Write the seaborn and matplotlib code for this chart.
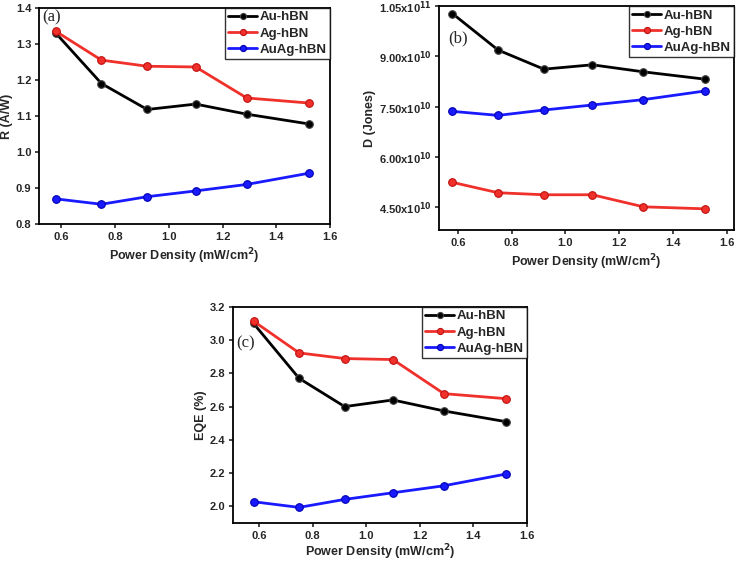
import matplotlib
matplotlib.use("Agg")
import matplotlib.pyplot as plt
import seaborn as sns
import numpy as np
import pandas as pd
from matplotlib.ticker import FuncFormatter

# power density (mW/cm^2)
power = [0.58, 0.75, 0.92, 1.10, 1.29, 1.52]
samples = ["Au-hBN", "Ag-hBN", "AuAg-hBN"]

# responsivity R (A/W)
r_au = [1.330, 1.190, 1.118, 1.133, 1.105, 1.078]
r_ag = [1.335, 1.255, 1.238, 1.236, 1.150, 1.136]
r_auag = [0.870, 0.855, 0.876, 0.892, 0.910, 0.941]

# detectivity D (Jones)
d_au = [10.28e10, 9.19e10, 8.62e10, 8.75e10, 8.54e10, 8.32e10]
d_ag = [5.24e10, 4.93e10, 4.87e10, 4.87e10, 4.51e10, 4.45e10]
d_auag = [7.36e10, 7.24e10, 7.40e10, 7.55e10, 7.71e10, 7.97e10]

# external quantum efficiency (%)
eqe_au = [3.100, 2.770, 2.600, 2.640, 2.574, 2.510]
eqe_ag = [3.114, 2.923, 2.889, 2.883, 2.678, 2.648]
eqe_auag = [2.028, 1.994, 2.042, 2.082, 2.124, 2.194]

colors = {"Au-hBN": "black", "Ag-hBN": "#f0302a", "AuAg-hBN": "#1a1aff"}
edge = {"Au-hBN": "#444444", "Ag-hBN": "#c01010", "AuAg-hBN": "#0000b0"}

sns.set_style("ticks")
plt.rcParams["font.family"] = ["Liberation Sans", "DejaVu Sans"]
plt.rcParams["font.weight"] = "bold"
plt.rcParams["axes.labelweight"] = "bold"


def make_df(a, b, c):
    rows = []
    for name, vals in zip(samples, [a, b, c]):
        for x, y in zip(power, vals):
            rows.append({"power": x, "value": y, "sample": name})
    return pd.DataFrame(rows)


def sci_fmt(v, pos):
    exp = int(np.floor(np.log10(v)))
    mant = v / 10 ** exp
    return f"{mant:.2f}x10$^{{{exp}}}$"


fig = plt.figure(figsize=(7.37, 5.63), dpi=100)
ax_a = fig.add_axes([0.053, 0.602, 0.395, 0.384])
ax_b = fig.add_axes([0.596, 0.591, 0.400, 0.398])
ax_c = fig.add_axes([0.316, 0.071, 0.399, 0.384])

panels = [
    (ax_a, make_df(r_au, r_ag, r_auag), "R (A/W)", (0.518, 1.6), (0.8, 1.4), "(a)", (0.01, 0.995), 3.5),
    (ax_b, make_df(d_au, d_ag, d_auag), "D (Jones)", (0.531, 1.627), (3.81e10, 1.05e11), "(b)", (0.03, 0.89), 3.5),
    (ax_c, make_df(eqe_au, eqe_ag, eqe_auag), "EQE (%)", (0.503, 1.6), (1.9, 3.2), "(c)", (0.012, 0.87), 1.5),
]

for ax, df, ylabel, xlim, ylim, tag, tagpos, xpad in panels:
    for name in samples:
        sub = df[df["sample"] == name]
        sns.lineplot(data=sub, x="power", y="value", ax=ax, color=colors[name],
                     linewidth=2.0, marker="o", markersize=5.5,
                     markerfacecolor=colors[name], markeredgecolor=edge[name],
                     markeredgewidth=0.8, label=name)
    ax.set_xlim(*xlim)
    ax.set_ylim(*ylim)
    ax.set_xticks([0.6, 0.8, 1.0, 1.2, 1.4, 1.6])
    ax.set_xlabel("Power Density (mW/cm$^2$)", fontsize=9, fontweight="bold", labelpad=xpad)
    ax.set_ylabel(ylabel, fontsize=9, fontweight="bold", labelpad=2)
    ax.tick_params(labelsize=8, width=1.2, length=3, direction="out", pad=2.5)
    for lab in ax.get_xticklabels() + ax.get_yticklabels():
        lab.set_fontweight("bold")
    for s in ax.spines.values():
        s.set_linewidth(1.3)
        s.set_color("black")
    leg = ax.legend(loc="upper right", frameon=True, fancybox=False, fontsize=9.5,
                    handlelength=2.2, handletextpad=0.2, borderpad=0.25,
                    labelspacing=0.3, borderaxespad=0.0, markerscale=0.8)
    leg.get_frame().set_edgecolor("black")
    leg.get_frame().set_linewidth(1.0)
    for t in leg.get_texts():
        t.set_fontweight("bold")
    ax.text(tagpos[0], tagpos[1], tag, transform=ax.transAxes, fontsize=12,
            family="Liberation Serif", fontweight="normal", va="top", ha="left")

ax_a.set_yticks([0.8, 0.9, 1.0, 1.1, 1.2, 1.3, 1.4])
ax_a.yaxis.set_major_formatter(FuncFormatter(lambda v, p: f"{v:.1f}"))
ax_b.set_yticks([4.5e10, 6.0e10, 7.5e10, 9.0e10, 1.05e11])
ax_b.yaxis.set_major_formatter(FuncFormatter(sci_fmt))
ax_b.yaxis.get_offset_text().set_visible(False)
ax_c.set_yticks([2.0, 2.2, 2.4, 2.6, 2.8, 3.0, 3.2])
ax_c.yaxis.set_major_formatter(FuncFormatter(lambda v, p: f"{v:.1f}"))

fig.savefig("out.png", dpi=100)
plt.close(fig)
